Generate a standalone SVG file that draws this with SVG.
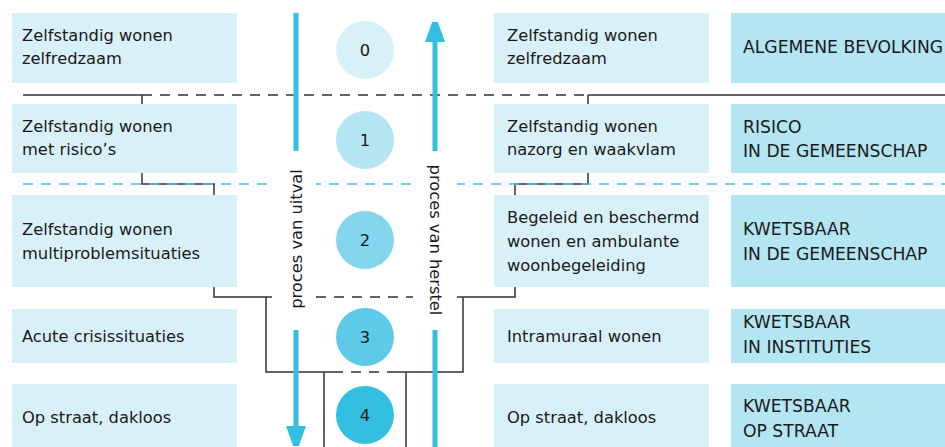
<svg xmlns="http://www.w3.org/2000/svg" width="945" height="447" viewBox="0 0 945 447">
<style>
.lt{fill:#d8f1f8}
.dk{fill:#b3e5f2}
text{font-family:"DejaVu Sans","Open Sans",sans-serif;font-size:16.3px;fill:#1a1a1a}
text.cap{font-size:17.2px}
.ln{stroke:#333;stroke-width:1.5;fill:none}
.dash{stroke:#333;stroke-width:1.5;stroke-dasharray:10 8;fill:none}
.cdash{stroke:#4cc4e4;stroke-width:1.5;stroke-dasharray:10 8;fill:none}
.arr{stroke:#33bfe0;stroke-width:5;fill:none}
.num{text-anchor:middle}
</style>
<defs>
<marker id="ah" viewBox="0 0 20 28" refX="0" refY="10" markerWidth="20" markerHeight="28" markerUnits="userSpaceOnUse" orient="auto">
<path d="M0,0 L28,10 L0,20 Z" fill="#33bfe0"/>
</marker>
</defs>
<rect width="945" height="447" fill="#fff"/>

<g id="connectors">
<path class="ln" d="M23,95 H142 M588,95 H945"/>
<path class="dash" d="M142,95 H588"/>
<path class="ln" d="M142,95 V104 M588,95 V104"/>
<path class="ln" d="M142,173 V184 H214 V195 M588,173 V184 H515 V195"/>
<path class="cdash" d="M23,184 H945"/>
<path class="ln" d="M214,287 V297 H280 M450,297 H515 V287"/>
<path class="dash" d="M280,297 H450"/>
<path class="ln" d="M266,297 V372 H333 M397,372 H463 V297"/>
<path class="dash" d="M333,372 H397"/>
<path class="ln" d="M324,372 V447 M406,372 V447"/>
</g>

<g id="row0">
<rect class="lt" x="12" y="13" width="225" height="70"/>
<text x="22" y="41">Zelfstandig wonen</text>
<text x="22" y="64">zelfredzaam</text>
<rect class="lt" x="494" y="13" width="215" height="70"/>
<text x="507" y="41">Zelfstandig wonen</text>
<text x="507" y="64">zelfredzaam</text>
<rect class="dk" x="731" y="13" width="214" height="70"/>
<text class="cap" x="743" y="53">ALGEMENE BEVOLKING</text>
</g>
<g id="row1">
<rect class="lt" x="12" y="104" width="225" height="69"/>
<text x="22" y="132">Zelfstandig wonen</text>
<text x="22" y="155">met risico’s</text>
<rect class="lt" x="494" y="104" width="215" height="69"/>
<text x="507" y="132">Zelfstandig wonen</text>
<text x="507" y="155">nazorg en waakvlam</text>
<rect class="dk" x="731" y="104" width="214" height="69"/>
<text class="cap" x="743" y="133">RISICO</text>
<text class="cap" x="743" y="157">IN DE GEMEENSCHAP</text>
</g>
<g id="row2">
<rect class="lt" x="12" y="195" width="225" height="92"/>
<text x="22" y="235">Zelfstandig wonen</text>
<text x="22" y="259">multiproblemsituaties</text>
<rect class="lt" x="494" y="195" width="215" height="92"/>
<text x="507" y="223">Begeleid en beschermd</text>
<text x="507" y="247">wonen en ambulante</text>
<text x="507" y="271">woonbegeleiding</text>
<rect class="dk" x="731" y="195" width="214" height="92"/>
<text class="cap" x="743" y="235">KWETSBAAR</text>
<text class="cap" x="743" y="260">IN DE GEMEENSCHAP</text>
</g>
<g id="row3">
<rect class="lt" x="12" y="309" width="225" height="54"/>
<text x="22" y="342">Acute crisissituaties</text>
<rect class="lt" x="494" y="309" width="215" height="54"/>
<text x="507" y="342">Intramuraal wonen</text>
<rect class="dk" x="731" y="309" width="214" height="54"/>
<text class="cap" x="743" y="328">KWETSBAAR</text>
<text class="cap" x="743" y="353">IN INSTITUTIES</text>
</g>
<g id="row4">
<rect class="lt" x="12" y="384" width="225" height="63"/>
<text x="22" y="423">Op straat, dakloos</text>
<rect class="lt" x="494" y="384" width="215" height="63"/>
<text x="507" y="423">Op straat, dakloos</text>
<rect class="dk" x="731" y="384" width="214" height="63"/>
<text class="cap" x="743" y="412">KWETSBAAR</text>
<text class="cap" x="743" y="437">OP STRAAT</text>
</g>

<g id="circles">
<circle cx="365" cy="50" r="29" fill="#d8f1f8"/>
<text class="num" x="365" y="56">0</text>
<circle cx="365" cy="140" r="29" fill="#b3e5f2"/>
<text class="num" x="365" y="146">1</text>
<circle cx="365" cy="240" r="29" fill="#83d6ed"/>
<text class="num" x="365" y="246">2</text>
<circle cx="365" cy="337" r="29" fill="#5dcae8"/>
<text class="num" x="365" y="343">3</text>
<circle cx="365" cy="415" r="29" fill="#33bfe0"/>
<text class="num" x="365" y="421">4</text>
</g>

<g id="uitval">
<rect x="272" y="155" width="44" height="172" fill="#fff"/>
<path class="arr" d="M296,13 V151"/>
<path class="arr" d="M296,330 V426" marker-end="url(#ah)"/>
<text transform="translate(296,239) rotate(-90)" text-anchor="middle" dominant-baseline="central">proces van uitval</text>
</g>
<g id="herstel">
<rect x="413" y="155" width="44" height="172" fill="#fff"/>
<path class="arr" d="M435,447 V330"/>
<path class="arr" d="M435,151 V42" marker-end="url(#ah)"/>
<text transform="translate(435,240) rotate(90)" text-anchor="middle" dominant-baseline="central">proces van herstel</text>
</g>
</svg>
